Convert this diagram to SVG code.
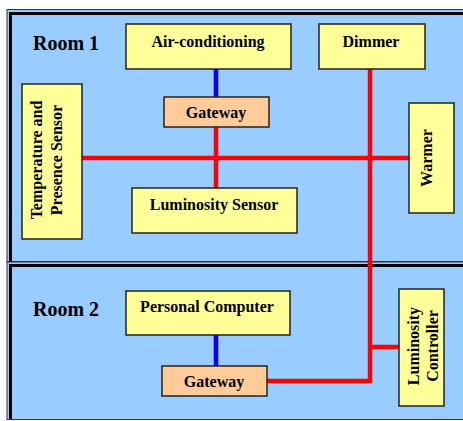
<svg xmlns="http://www.w3.org/2000/svg" width="463" height="421" viewBox="0 0 463 421">
  <style>
    .room { fill: #99CCFF; stroke: #333; stroke-width: 1; }
    .frame { fill: none; stroke: #000; stroke-width: 3; }
    .node { fill: #FFFF99; stroke: #222; stroke-width: 1.5; }
    .gw { fill: #FFCC99; stroke: #222; stroke-width: 1.5; }
    .lbl { font-family: "Liberation Serif", "Times New Roman", serif; font-weight: bold; font-size: 16px; fill: #000; text-anchor: middle; }
    .room-lbl { font-family: "Liberation Serif", "Times New Roman", serif; font-weight: bold; font-size: 20px; fill: #000; }
    .red { stroke: #FF0000; stroke-width: 4.5; fill: none; }
    .blue { stroke: #0000FF; stroke-width: 4.5; fill: none; }
  </style>
  <rect width="463" height="421" fill="#fff"/>

  <!-- rooms -->
  <g id="room1">
    <rect class="room" x="7" y="9.5" width="470" height="252"/>
    <path class="frame" d="M10.5 261.5 V13.5 H470"/>
    <text class="room-lbl" x="33" y="50">Room 1</text>
  </g>
  <g id="room2">
    <rect class="room" x="7" y="262" width="470" height="157.5"/>
    <path class="frame" d="M10.5 419 V265.5 H470"/>
    <text class="room-lbl" x="33" y="316">Room 2</text>
  </g>

  <!-- connectors -->
  <g id="connectors">
    <line class="blue" x1="216" y1="69" x2="216" y2="97"/>
    <line class="red" x1="216" y1="127" x2="216" y2="188"/>
    <line class="red" x1="82" y1="158" x2="409" y2="158"/>
    <path class="red" d="M267 381 H370 V69"/>
    <line class="red" x1="370" y1="347" x2="399" y2="347"/>
    <line class="blue" x1="216" y1="335" x2="216" y2="366"/>
  </g>

  <!-- nodes -->
  <g id="air-conditioning">
    <rect class="node" x="126" y="24" width="165" height="45"/>
    <text class="lbl" x="208" y="47">Air-conditioning</text>
  </g>
  <g id="dimmer">
    <rect class="node" x="319" y="24" width="106" height="45"/>
    <text class="lbl" x="371" y="47">Dimmer</text>
  </g>
  <g id="gateway1">
    <rect class="gw" x="164" y="97" width="105" height="30"/>
    <text class="lbl" x="216" y="118">Gateway</text>
  </g>
  <g id="temp-presence-sensor">
    <rect class="node" x="22" y="84" width="60" height="155"/>
    <text class="lbl" transform="translate(42 160) rotate(-90)">Temperature and</text>
    <text class="lbl" transform="translate(62 160) rotate(-90)">Presence Sensor</text>
  </g>
  <g id="luminosity-sensor">
    <rect class="node" x="132" y="188" width="165" height="45"/>
    <text class="lbl" x="214" y="210">Luminosity Sensor</text>
  </g>
  <g id="warmer">
    <rect class="node" x="409" y="103" width="45" height="110"/>
    <text class="lbl" transform="translate(432 158) rotate(-90)">Warmer</text>
  </g>
  <g id="personal-computer">
    <rect class="node" x="126" y="291" width="164" height="44"/>
    <text class="lbl" x="207" y="312">Personal Computer</text>
  </g>
  <g id="gateway2">
    <rect class="gw" x="162" y="366" width="105" height="30"/>
    <text class="lbl" x="214" y="387">Gateway</text>
  </g>
  <g id="luminosity-controller">
    <rect class="node" x="399" y="289" width="45" height="117"/>
    <text class="lbl" transform="translate(419 346) rotate(-90)">Luminosity</text>
    <text class="lbl" transform="translate(438 346) rotate(-90)">Controller</text>
  </g>
</svg>
